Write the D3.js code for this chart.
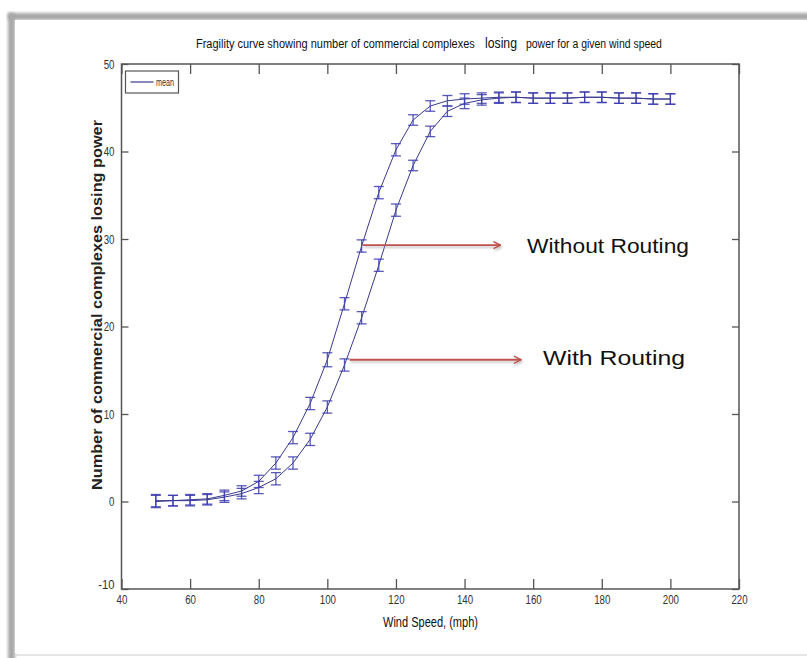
<!DOCTYPE html>
<html>
<head>
<meta charset="utf-8">
<script src="https://cdn.jsdelivr.net/npm/d3@7"></script>
<style>
  html, body { margin: 0; padding: 0; background: #fff; }
  svg { display: block; }
  .narrow { font-family: "Liberation Sans Narrow", "Liberation Sans", Arial, sans-serif; }
</style>
</head>
<body>
<div id="chart"></div>
<script>
// wind speeds (mph)
const speeds = [50, 55, 60, 65, 70, 75, 80, 85, 90, 95, 100, 105, 110, 115, 120, 125, 130, 135, 140,
  145, 150, 155, 160, 165, 170, 175, 180, 185, 190, 195, 200];
// mean number of complexes losing power
const withoutRouting = [0.1, 0.1, 0.2, 0.3, 0.7, 1.2, 2.3, 4.4, 7.3, 11.2, 16.2, 22.6, 29.2, 35.3, 40.2, 43.6,
  45.2, 45.8, 46.0, 46.1, 46.2, 46.2, 46.1, 46.1, 46.1, 46.2, 46.2, 46.1, 46.1, 46.0, 46.0];
const withRouting = [0.0, 0.1, 0.1, 0.2, 0.5, 0.9, 1.6, 2.6, 4.4, 7.1, 10.8, 15.6, 21.0, 27.0, 33.3, 38.4,
  42.3, 44.6, 45.5, 45.9, 46.1, 46.2, 46.1, 46.1, 46.1, 46.2, 46.2, 46.1, 46.1, 46.0, 46.0];
// half-length of error bars
const errWithout = [0.7, 0.6, 0.6, 0.6, 0.6, 0.6, 0.7, 0.7, 0.7, 0.7, 0.8, 0.7, 0.7, 0.7, 0.7, 0.6,
  0.6, 0.6, 0.6, 0.6, 0.6, 0.6, 0.6, 0.6, 0.6, 0.6, 0.6, 0.6, 0.6, 0.6, 0.6];
const errWith = [0.7, 0.6, 0.6, 0.6, 0.6, 0.6, 0.7, 0.7, 0.7, 0.7, 0.7, 0.7, 0.7, 0.7, 0.7, 0.6,
  0.6, 0.6, 0.6, 0.6, 0.6, 0.6, 0.6, 0.6, 0.6, 0.6, 0.6, 0.6, 0.6, 0.6, 0.6];

const xTicks = [40, 60, 80, 100, 120, 140, 160, 180, 200, 220];
const yTicks = [-10, 0, 10, 20, 30, 40, 50];

const W = 807, H = 658;
const svg = d3.select('#chart').append('svg').attr('width', W).attr('height', H);

const defs = svg.append('defs');
const blur = defs.append('filter').attr('id', 'blur').attr('x', '-20%').attr('y', '-20%').attr('width', '140%').attr('height', '140%');
blur.append('feGaussianBlur').attr('stdDeviation', 1.6);
const shadow = defs.append('filter').attr('id', 'shadow').attr('filterUnits', 'userSpaceOnUse')
  .attr('x', 0).attr('y', 0).attr('width', W).attr('height', H);
shadow.append('feDropShadow').attr('dx', 1).attr('dy', 2).attr('stdDeviation', 1.2).attr('flood-color', '#999').attr('flood-opacity', 0.6);
defs.append('marker').attr('id', 'arrow').attr('viewBox', '0 0 10 10').attr('refX', 9).attr('refY', 5)
  .attr('markerWidth', 9).attr('markerHeight', 9).attr('markerUnits', 'userSpaceOnUse').attr('orient', 'auto')
  .append('path').attr('d', 'M1,1 L9,5 L1,9').attr('fill', 'none').attr('stroke', '#c0504d').attr('stroke-width', 1.5);

// screenshot frame
svg.append('rect').attr('width', W).attr('height', H).attr('fill', '#fff');
svg.append('rect').attr('x', 8).attr('y', 13).attr('width', W).attr('height', 7).attr('fill', '#a8a8a8').attr('filter', 'url(#blur)');
svg.append('rect').attr('x', 8).attr('y', 13).attr('width', 7).attr('height', H).attr('fill', '#a8a8a8').attr('filter', 'url(#blur)');
svg.append('rect').attr('x', 15).attr('y', 20).attr('width', W).attr('height', 633).attr('fill', '#fff');
svg.append('line').attr('x1', 15).attr('x2', W).attr('y1', 655).attr('y2', 655).attr('stroke', '#ddd').attr('stroke-width', 1.5);

const x = d3.scaleLinear().domain([40, 220]).range([121.5, 739]);
const y = d3.scaleLinear().domain([-10, 50]).range([589, 64]);

const axisColor = '#555';
const axisG = svg.append('g');
// box
axisG.append('rect').attr('x', x(40)).attr('y', y(50)).attr('width', x(220) - x(40)).attr('height', y(-10) - y(50))
  .attr('fill', 'none').attr('stroke', axisColor).attr('stroke-width', 1.5);

const fmt = d => String(d);
const axBottom = axisG.append('g').attr('transform', `translate(0,${y(-10)})`)
  .call(d3.axisBottom(x).tickValues(xTicks).tickFormat(fmt).tickSizeInner(-10).tickSizeOuter(0).tickPadding(6));
const axTop = axisG.append('g').attr('transform', `translate(0,${y(50)})`)
  .call(d3.axisTop(x).tickValues(xTicks).tickSizeInner(-10).tickSizeOuter(0).tickFormat(''));
const axLeft = axisG.append('g').attr('transform', `translate(${x(40)},0)`)
  .call(d3.axisLeft(y).tickValues(yTicks).tickFormat(fmt).tickSizeInner(-7).tickSizeOuter(0).tickPadding(7));
const axRight = axisG.append('g').attr('transform', `translate(${x(220)},0)`)
  .call(d3.axisRight(y).tickValues(yTicks).tickSizeInner(-7).tickSizeOuter(0).tickFormat(''));

[axBottom, axTop, axLeft, axRight].forEach(g => {
  g.select('.domain').remove();
  g.selectAll('.tick line').attr('stroke', axisColor).attr('stroke-width', 1.3);
  g.selectAll('text').attr('class', 'narrow').attr('font-size', 12.5).attr('fill', '#333')
    .attr('textLength', d => String(d).length * 5.4).attr('lengthAdjust', 'spacingAndGlyphs');
});
axBottom.selectAll('.tick text').attr('dy', '0.75em');
axLeft.selectAll('.tick').filter(d => d === -10).select('text').attr('dy', '-0.05em');

// series
const lineGen = vals => d3.line().x((d, i) => x(speeds[i])).y(d => y(d))(vals);
const series = [
  { vals: withRouting, err: errWith },
  { vals: withoutRouting, err: errWithout }
];
const plot = svg.append('g');
series.forEach(s => {
  plot.append('path').attr('d', lineGen(s.vals)).attr('fill', 'none').attr('stroke', '#3a3a8e').attr('stroke-width', 1);
  const bars = plot.append('g').attr('stroke', '#3c3cae').attr('stroke-width', 1.3).attr('stroke-opacity', 0.85);
  speeds.forEach((sp, i) => {
    const cx = x(sp), y1 = y(s.vals[i] + s.err[i]), y2 = y(s.vals[i] - s.err[i]);
    bars.append('line').attr('x1', cx).attr('x2', cx).attr('y1', y1).attr('y2', y2);
    bars.append('line').attr('x1', cx - 5).attr('x2', cx + 5).attr('y1', y1).attr('y2', y1);
    bars.append('line').attr('x1', cx - 5).attr('x2', cx + 5).attr('y1', y2).attr('y2', y2);
  });
});

// legend
svg.append('rect').attr('x', 125.5).attr('y', 71).attr('width', 53).attr('height', 22)
  .attr('fill', '#fff').attr('stroke', axisColor).attr('stroke-width', 1.2);
svg.append('line').attr('x1', 130.5).attr('x2', 153.5).attr('y1', 82).attr('y2', 82).attr('stroke', '#3a3a8e').attr('stroke-width', 1.2);
svg.append('text').attr('class', 'narrow').attr('x', 156).attr('y', 85.5).attr('font-size', 10).attr('fill', '#333')
  .attr('textLength', 18).attr('lengthAdjust', 'spacingAndGlyphs').text('mean');

// annotations
const notes = [
  { from: [110.3, 29.3], to: [150.5, 29.3], label: 'Without Routing', tx: 527, ty: 253, len: 162 },
  { from: [106.5, 16.2], to: [156.5, 16.2], label: 'With Routing', tx: 543, ty: 365, len: 142 }
];
notes.forEach(n => {
  svg.append('line').attr('x1', x(n.from[0])).attr('y1', y(n.from[1])).attr('x2', x(n.to[0])).attr('y2', y(n.to[1]))
    .attr('stroke', '#c0504d').attr('stroke-width', 1.8).attr('marker-end', 'url(#arrow)').attr('filter', 'url(#shadow)');
  svg.append('text').attr('x', n.tx).attr('y', n.ty).attr('font-family', '"Liberation Sans", Arial, sans-serif')
    .attr('font-size', 21).attr('fill', '#111').attr('textLength', n.len).attr('lengthAdjust', 'spacingAndGlyphs').text(n.label);
});

// title, in three pieces ("losing" is set in a slightly larger face); squeezed horizontally to fit
const titleParts = [
  { text: 'Fragility curve showing number of commercial complexes', x0: 196, len: 279, size: 13.5 },
  { text: 'losing', x0: 485, len: 32, size: 14 },
  { text: 'power for a given wind speed', x0: 526, len: 136, size: 13.5 }
];
titleParts.forEach(p => {
  const t = svg.append('text').attr('class', 'narrow').attr('x', 0).attr('y', 0)
    .attr('font-size', p.size).attr('fill', '#111').text(p.text);
  const sx = p.len / t.node().getComputedTextLength();
  t.attr('transform', `translate(${p.x0},48) scale(${sx},1)`);
});

// axis labels
svg.append('text').attr('class', 'narrow').attr('x', 383).attr('y', 627)
  .attr('font-size', 14).attr('fill', '#111').attr('textLength', 95).attr('lengthAdjust', 'spacingAndGlyphs')
  .text('Wind Speed, (mph)');
svg.append('text').attr('transform', 'translate(102,305) rotate(-90)').attr('text-anchor', 'middle')
  .attr('font-family', '"Liberation Sans", Arial, sans-serif').attr('font-weight', 'bold').attr('font-size', 14.5)
  .attr('fill', '#222').attr('textLength', 370).attr('lengthAdjust', 'spacingAndGlyphs')
  .text('Number of commercial complexes losing  power');
</script>
</body>
</html>
